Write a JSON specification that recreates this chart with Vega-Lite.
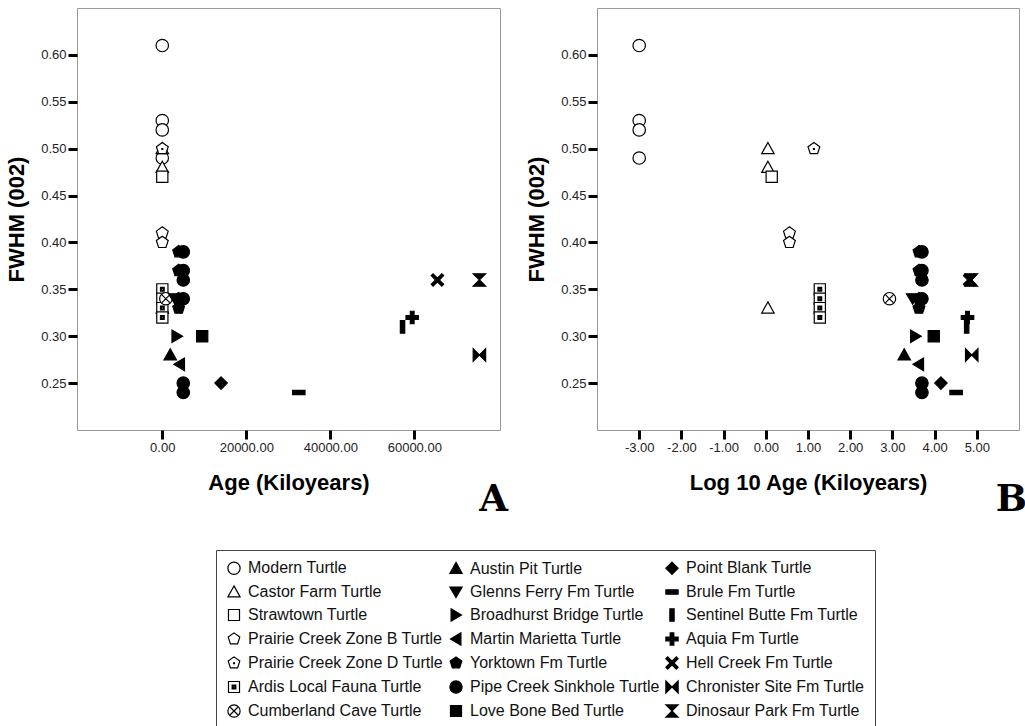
{
  "$schema": "https://vega.github.io/schema/vega-lite/v6.json",
  "background": "white",
  "padding": {"left": 5, "top": 7, "right": 0, "bottom": 0},
  "autosize": {"type": "pad"},
  "spacing": 16,
  "datasets": {
    "turtles": [
      {"turtle": "Modern Turtle", "age": 0.001, "log_age": -3.0, "fwhm": 0.61},
      {"turtle": "Modern Turtle", "age": 0.001, "log_age": -3.0, "fwhm": 0.53},
      {"turtle": "Modern Turtle", "age": 0.001, "log_age": -3.0, "fwhm": 0.52},
      {"turtle": "Modern Turtle", "age": 0.001, "log_age": -3.0, "fwhm": 0.49},
      {"turtle": "Castor Farm Turtle", "age": 1.1, "log_age": 0.05, "fwhm": 0.50},
      {"turtle": "Castor Farm Turtle", "age": 1.1, "log_age": 0.05, "fwhm": 0.48},
      {"turtle": "Castor Farm Turtle", "age": 1.1, "log_age": 0.05, "fwhm": 0.33},
      {"turtle": "Strawtown Turtle", "age": 1.4, "log_age": 0.14, "fwhm": 0.47},
      {"turtle": "Prairie Creek Zone B Turtle", "age": 3.6, "log_age": 0.56, "fwhm": 0.41},
      {"turtle": "Prairie Creek Zone B Turtle", "age": 3.6, "log_age": 0.56, "fwhm": 0.40},
      {"turtle": "Prairie Creek Zone D Turtle", "age": 14, "log_age": 1.14, "fwhm": 0.50},
      {"turtle": "Ardis Local Fauna Turtle", "age": 19, "log_age": 1.28, "fwhm": 0.35},
      {"turtle": "Ardis Local Fauna Turtle", "age": 19, "log_age": 1.28, "fwhm": 0.34},
      {"turtle": "Ardis Local Fauna Turtle", "age": 19, "log_age": 1.28, "fwhm": 0.33},
      {"turtle": "Ardis Local Fauna Turtle", "age": 19, "log_age": 1.28, "fwhm": 0.32},
      {"turtle": "Cumberland Cave Turtle", "age": 850, "log_age": 2.93, "fwhm": 0.34},
      {"turtle": "Austin Pit Turtle", "age": 1900, "log_age": 3.28, "fwhm": 0.28},
      {"turtle": "Glenns Ferry Fm Turtle", "age": 3000, "log_age": 3.48, "fwhm": 0.34},
      {"turtle": "Broadhurst Bridge Turtle", "age": 3500, "log_age": 3.55, "fwhm": 0.30},
      {"turtle": "Martin Marietta Turtle", "age": 4100, "log_age": 3.62, "fwhm": 0.27},
      {"turtle": "Yorktown Fm Turtle", "age": 3900, "log_age": 3.63, "fwhm": 0.39},
      {"turtle": "Yorktown Fm Turtle", "age": 3900, "log_age": 3.63, "fwhm": 0.37},
      {"turtle": "Yorktown Fm Turtle", "age": 3900, "log_age": 3.63, "fwhm": 0.34},
      {"turtle": "Yorktown Fm Turtle", "age": 3900, "log_age": 3.63, "fwhm": 0.33},
      {"turtle": "Pipe Creek Sinkhole Turtle", "age": 5000, "log_age": 3.70, "fwhm": 0.39},
      {"turtle": "Pipe Creek Sinkhole Turtle", "age": 5000, "log_age": 3.70, "fwhm": 0.37},
      {"turtle": "Pipe Creek Sinkhole Turtle", "age": 5000, "log_age": 3.70, "fwhm": 0.36},
      {"turtle": "Pipe Creek Sinkhole Turtle", "age": 5000, "log_age": 3.70, "fwhm": 0.34},
      {"turtle": "Pipe Creek Sinkhole Turtle", "age": 5000, "log_age": 3.70, "fwhm": 0.25},
      {"turtle": "Pipe Creek Sinkhole Turtle", "age": 5000, "log_age": 3.70, "fwhm": 0.24},
      {"turtle": "Love Bone Bed Turtle", "age": 9500, "log_age": 3.98, "fwhm": 0.30},
      {"turtle": "Point Blank Turtle", "age": 14000, "log_age": 4.15, "fwhm": 0.25},
      {"turtle": "Brule Fm Turtle", "age": 32500, "log_age": 4.51, "fwhm": 0.24},
      {"turtle": "Sentinel Butte Fm Turtle", "age": 57200, "log_age": 4.76, "fwhm": 0.31},
      {"turtle": "Aquia Fm Turtle", "age": 59500, "log_age": 4.78, "fwhm": 0.32},
      {"turtle": "Hell Creek Fm Turtle", "age": 65500, "log_age": 4.83, "fwhm": 0.36},
      {"turtle": "Chronister Site Fm Turtle", "age": 75500, "log_age": 4.88, "fwhm": 0.28},
      {"turtle": "Dinosaur Park Fm Turtle", "age": 75500, "log_age": 4.87, "fwhm": 0.36}
    ]
  },
  "resolve": {"scale": {"shape": "shared", "fill": "shared", "stroke": "shared"}, "legend": {"shape": "shared", "fill": "shared", "stroke": "shared"}},
  "hconcat": [
    {
      "width": 423,
      "height": 422,
      "data": {"name": "turtles"},
      "title": {"text": "A", "orient": "bottom", "anchor": "end", "frame": "group", "font": "DejaVu Serif", "fontSize": 37, "fontWeight": "bold", "color": "black", "baseline": "alphabetic", "offset": 18, "dx": 8},
      "mark": {"type": "point", "filled": true, "size": 155, "strokeWidth": 1.2, "opacity": 1},
      "encoding": {
        "x": {"field": "age", "type": "quantitative", "title": "Age (Kiloyears)",
              "scale": {"domain": [-20300, 80400], "nice": false, "zero": false},
              "axis": {"values": [0, 20000, 40000, 60000], "format": ".2f"}},
        "y": {"field": "fwhm", "type": "quantitative", "title": "FWHM (002)",
              "scale": {"domain": [0.2, 0.65], "nice": false, "zero": false},
              "axis": {"values": [0.25, 0.3, 0.35, 0.4, 0.45, 0.5, 0.55, 0.6], "format": ".2f"}},
        "shape": {"field": "turtle", "type": "nominal", "title": null,
          "scale": {
            "domain": ["Modern Turtle","Castor Farm Turtle","Strawtown Turtle","Prairie Creek Zone B Turtle","Prairie Creek Zone D Turtle","Ardis Local Fauna Turtle","Cumberland Cave Turtle","Austin Pit Turtle","Glenns Ferry Fm Turtle","Broadhurst Bridge Turtle","Martin Marietta Turtle","Yorktown Fm Turtle","Pipe Creek Sinkhole Turtle","Love Bone Bed Turtle","Point Blank Turtle","Brule Fm Turtle","Sentinel Butte Fm Turtle","Aquia Fm Turtle","Hell Creek Fm Turtle","Chronister Site Fm Turtle","Dinosaur Park Fm Turtle"],
            "range": [
              "M1,0A1,1,0,1,1,-1,0A1,1,0,1,1,1,0Z",
              "M0,-1L1,0.8L-1,0.8Z",
              "M-0.9,-0.9L0.9,-0.9L0.9,0.9L-0.9,0.9Z",
              "M0,-1L0.95,-0.31L0.59,0.81L-0.59,0.81L-0.95,-0.31Z",
              "M0,-1L0.95,-0.31L0.59,0.81L-0.59,0.81L-0.95,-0.31ZM-0.07,-0.02L0.07,-0.02L0.07,0.12L-0.07,0.12Z",
              "M-0.9,-0.9L0.9,-0.9L0.9,0.9L-0.9,0.9ZM-0.3,-0.3L0.3,-0.3L0.3,0.3L-0.3,0.3ZM-0.15,-0.15L0.15,-0.15L0.15,0.15L-0.15,0.15Z",
              "M1,0A1,1,0,1,1,-1,0A1,1,0,1,1,1,0ZM-0.62,-0.62L0.62,0.62M0.62,-0.62L-0.62,0.62",
              "M0,-1L1,0.8L-1,0.8Z",
              "M0,0.9L1,-0.8L-1,-0.8Z",
              "M0.9,0L-0.8,-1L-0.8,1Z",
              "M-0.9,0L0.8,-1L0.8,1Z",
              "M0,-1L0.95,-0.31L0.59,0.81L-0.59,0.81L-0.95,-0.31Z",
              "M1,0A1,1,0,1,1,-1,0A1,1,0,1,1,1,0Z",
              "M-0.9,-0.9L0.9,-0.9L0.9,0.9L-0.9,0.9Z",
              "M0,-1L1,0L0,1L-1,0Z",
              "M-1,-0.35L1,-0.35L1,0.35L-1,0.35Z",
              "M-0.35,-1L0.35,-1L0.35,1L-0.35,1Z",
              "M-0.3,-1L0.3,-1L0.3,-0.3L1,-0.3L1,0.3L0.3,0.3L0.3,1L-0.3,1L-0.3,0.3L-1,0.3L-1,-0.3L-0.3,-0.3Z",
              "M-1,-0.7L-0.7,-1L0,-0.3L0.7,-1L1,-0.7L0.3,0L1,0.7L0.7,1L0,0.3L-0.7,1L-1,0.7L-0.3,0Z",
              "M-1,-1L0,0L-1,1ZM1,-1L0,0L1,1Z",
              "M-1,-1L1,-1L0,0ZM-1,1L1,1L0,0Z"
            ]}},
        "fill": {"field": "turtle", "type": "nominal", "title": null,
          "scale": {
            "domain": ["Modern Turtle","Castor Farm Turtle","Strawtown Turtle","Prairie Creek Zone B Turtle","Prairie Creek Zone D Turtle","Ardis Local Fauna Turtle","Cumberland Cave Turtle","Austin Pit Turtle","Glenns Ferry Fm Turtle","Broadhurst Bridge Turtle","Martin Marietta Turtle","Yorktown Fm Turtle","Pipe Creek Sinkhole Turtle","Love Bone Bed Turtle","Point Blank Turtle","Brule Fm Turtle","Sentinel Butte Fm Turtle","Aquia Fm Turtle","Hell Creek Fm Turtle","Chronister Site Fm Turtle","Dinosaur Park Fm Turtle"],
            "range": ["white","white","white","white","white","white","white","black","black","black","black","black","black","black","black","black","black","black","black","black","black"]}},
        "stroke": {"field": "turtle", "type": "nominal", "title": null,
          "scale": {
            "domain": ["Modern Turtle","Castor Farm Turtle","Strawtown Turtle","Prairie Creek Zone B Turtle","Prairie Creek Zone D Turtle","Ardis Local Fauna Turtle","Cumberland Cave Turtle","Austin Pit Turtle","Glenns Ferry Fm Turtle","Broadhurst Bridge Turtle","Martin Marietta Turtle","Yorktown Fm Turtle","Pipe Creek Sinkhole Turtle","Love Bone Bed Turtle","Point Blank Turtle","Brule Fm Turtle","Sentinel Butte Fm Turtle","Aquia Fm Turtle","Hell Creek Fm Turtle","Chronister Site Fm Turtle","Dinosaur Park Fm Turtle"],
            "range": ["black","black","black","black","black","black","black","black","black","black","black","black","black","black","black","black","black","black","black","black","black"]}}
      }
    },
    {
      "width": 422,
      "height": 422,
      "data": {"name": "turtles"},
      "title": {"text": "B", "orient": "bottom", "anchor": "end", "frame": "group", "font": "DejaVu Serif", "fontSize": 37, "fontWeight": "bold", "color": "black", "baseline": "alphabetic", "offset": 18, "dx": 8},
      "mark": {"type": "point", "filled": true, "size": 155, "strokeWidth": 1.2, "opacity": 1},
      "encoding": {
        "x": {"field": "log_age", "type": "quantitative", "title": "Log 10 Age (Kiloyears)",
              "scale": {"domain": [-4, 6], "nice": false, "zero": false},
              "axis": {"values": [-3, -2, -1, 0, 1, 2, 3, 4, 5], "labelExpr": "datum.value < 0 ? '-' + format(-datum.value, '.2f') : format(datum.value, '.2f')"}},
        "y": {"field": "fwhm", "type": "quantitative", "title": "FWHM (002)",
              "scale": {"domain": [0.2, 0.65], "nice": false, "zero": false},
              "axis": {"values": [0.25, 0.3, 0.35, 0.4, 0.45, 0.5, 0.55, 0.6], "format": ".2f"}},
        "shape": {"field": "turtle", "type": "nominal", "title": null},
        "fill": {"field": "turtle", "type": "nominal", "title": null},
        "stroke": {"field": "turtle", "type": "nominal", "title": null}
      }
    }
  ],
  "config": {
    "view": {"stroke": "#999", "strokeWidth": 1},
    "axis": {"domain": false, "grid": false, "ticks": true, "tickColor": "black", "tickWidth": 3, "tickSize": 9,
             "labelFont": "Liberation Sans", "labelFontSize": 13, "labelColor": "#222", "labelPadding": 2,
             "titleFont": "Liberation Sans", "titleFontSize": 22, "titleFontWeight": "bold", "titleColor": "black"},
    "axisX": {"titlePadding": 18},
    "axisY": {"titlePadding": 12},
    "legend": {"orient": "none", "legendX": 139, "legendY": 542, "columns": 3, "direction": "vertical",
               "strokeColor": "#444", "padding": 10, "labelFont": "Liberation Sans", "labelFontSize": 16, "labelColor": "#111",
               "rowPadding": 6, "columnPadding": 3, "labelOffset": 6, "labelLimit": 400,
               "symbolStrokeColor": "black", "symbolStrokeWidth": 1.2, "symbolSize": 150}
  }
}
